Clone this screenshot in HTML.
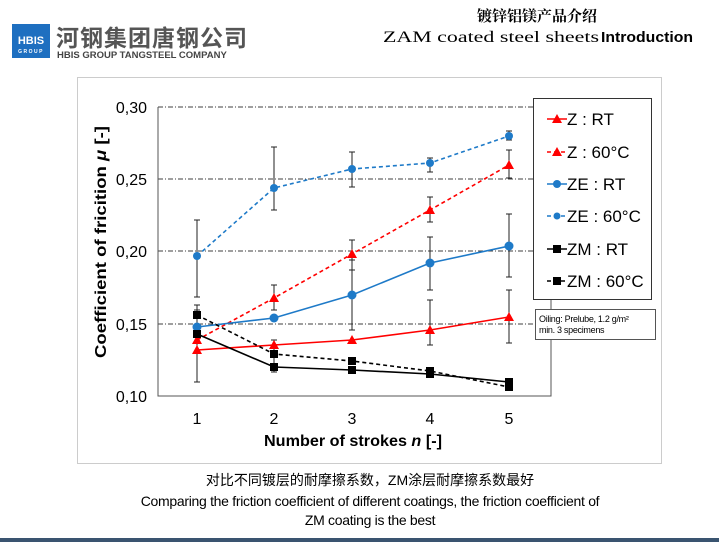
<!DOCTYPE html>
<html><head><meta charset="utf-8"><style>
body{margin:0;width:719px;height:542px;background:#fff;overflow:hidden;font-family:"Liberation Sans","Noto Sans CJK SC",sans-serif}
</style></head><body>
<svg width="719" height="542" xmlns="http://www.w3.org/2000/svg" font-family="Liberation Sans, Noto Sans CJK SC, sans-serif">
<rect x="12" y="24" width="38" height="34" fill="#1e6fc0"/>
<text x="31" y="44" font-size="11" font-weight="bold" fill="#fff" text-anchor="middle">HBIS</text>
<text x="31" y="53" font-size="5" font-weight="bold" fill="#fff" text-anchor="middle" letter-spacing="1.5">GROUP</text>
<text x="56" y="46" font-size="23" font-weight="bold" fill="#555" font-family="Noto Sans CJK SC, sans-serif" letter-spacing="1">河钢集团唐钢公司</text>
<text x="57" y="58" font-size="9.5" fill="#444" font-weight="bold">HBIS GROUP TANGSTEEL COMPANY</text>
<text x="537" y="21" font-size="15" font-weight="bold" text-anchor="middle" font-family="Noto Serif CJK SC, serif">镀锌铝镁产品介绍</text>
<text x="383" y="42" font-size="16" font-family="Liberation Serif, serif" textLength="216" lengthAdjust="spacingAndGlyphs">ZAM coated steel sheets</text>
<text x="601" y="42" font-size="15" font-weight="bold" textLength="92" lengthAdjust="spacingAndGlyphs">Introduction</text>
<rect x="77.5" y="77.5" width="584" height="386" fill="none" stroke="#ccc"/>
<g stroke="#000" stroke-width="0.8" stroke-dasharray="5,2,1,2">
<line x1="158" y1="107" x2="551" y2="107"/><line x1="158" y1="179" x2="551" y2="179"/>
<line x1="158" y1="251" x2="551" y2="251"/><line x1="158" y1="324" x2="551" y2="324"/>
</g>
<path d="M158 107V396H551V240" fill="none" stroke="#555" stroke-width="1"/>
<g font-size="16" text-anchor="end">
<text x="147" y="113">0,30</text><text x="147" y="185">0,25</text><text x="147" y="257">0,20</text><text x="147" y="330">0,15</text><text x="147" y="402">0,10</text>
</g>
<g font-size="16" text-anchor="middle">
<text x="197" y="424">1</text><text x="274" y="424">2</text><text x="352" y="424">3</text><text x="430" y="424">4</text><text x="509" y="424">5</text>
</g>
<text x="264" y="446" font-size="16" font-weight="bold" textLength="178" lengthAdjust="spacingAndGlyphs">Number of strokes <tspan font-style="italic">n</tspan> [-]</text>
<text transform="translate(106,358) rotate(-90)" font-size="16" font-weight="bold" textLength="232" lengthAdjust="spacingAndGlyphs">Coefficient of fricition <tspan font-style="italic">μ</tspan> [-]</text>
<g stroke="#222" stroke-width="1">
<path d="M197 220V297M194 220H200M194 297H200"/>
<path d="M274 147V210M271 147H277M271 210H277"/>
<path d="M352 152V187M349 152H355M349 187H355"/>
<path d="M430 158V172M427 158H433M427 172H433"/>
<path d="M509 131V140M506 131H512M506 140H512"/>
<path d="M430 197V222M427 197H433M427 222H433"/>
<path d="M509 150V178M506 150H512M506 178H512"/>
<path d="M352 240V270M349 240H355M349 270H355"/>
<path d="M274 285V310M271 285H277M271 310H277"/>
<path d="M509 214V277M506 214H512M506 277H512"/>
<path d="M430 237V290M427 237H433M427 290H433"/>
<path d="M352 260V330M349 260H355M349 330H355"/>
<path d="M509 290V343M506 290H512M506 343H512"/>
<path d="M430 300V345M427 300H433M427 345H433"/>
<path d="M197 310V382M194 310H200M194 382H200"/>
<path d="M274 340V372M271 340H277M271 372H277"/>
<path d="M197 305V330M194 305H200"/>
</g>
<g fill="none" stroke-width="1.6">
<polyline stroke="#ff0000" points="197,350 274,345 352,340 430,330 509,317"/>
<polyline stroke="#ff0000" stroke-dasharray="4,3" points="197,340 274,298 352,254 430,210 509,165"/>
<polyline stroke="#1e7ac8" points="197,327 274,318 352,295 430,263 509,246"/>
<polyline stroke="#1e7ac8" stroke-dasharray="4,3" points="197,256 274,188 352,169 430,163 509,136"/>
<polyline stroke="#000" points="197,334 274,367 352,370 430,374 509,382"/>
<polyline stroke="#000" stroke-dasharray="4,3" points="197,315 274,354 352,361 430,371 509,387"/>
</g>
<g fill="#ff0000">
<path d="M197 345l5 9h-10zM274 340l5 9h-10zM352 335l5 9h-10zM430 325l5 9h-10zM509 312l5 9h-10z"/>
<path d="M197 335l5 9h-10zM274 293l5 9h-10zM352 249l5 9h-10zM430 205l5 9h-10zM509 160l5 9h-10z"/>
</g>
<g fill="#1e7ac8">
<circle cx="197" cy="327" r="4.5"/><circle cx="274" cy="318" r="4.5"/><circle cx="352" cy="295" r="4.5"/><circle cx="430" cy="263" r="4.5"/><circle cx="509" cy="246" r="4.5"/>
<circle cx="197" cy="256" r="4"/><circle cx="274" cy="188" r="4"/><circle cx="352" cy="169" r="4"/><circle cx="430" cy="163" r="4"/><circle cx="509" cy="136" r="4"/>
</g>
<g fill="#000">
<rect x="193" y="330" width="8" height="8"/><rect x="270" y="363" width="8" height="8"/><rect x="348" y="366" width="8" height="8"/><rect x="426" y="370" width="8" height="8"/><rect x="505" y="378" width="8" height="8"/>
<rect x="193" y="311" width="8" height="8"/><rect x="270" y="350" width="8" height="8"/><rect x="348" y="357" width="8" height="8"/><rect x="426" y="367" width="8" height="8"/><rect x="505" y="383" width="8" height="8"/>
</g>
<rect x="533.5" y="98.5" width="118" height="201" fill="#fff" stroke="#333"/>
<g stroke-width="1.6" fill="none">
<line x1="547" y1="119" x2="567" y2="119" stroke="#f00"/>
<line x1="547" y1="152" x2="567" y2="152" stroke="#f00" stroke-dasharray="4,3"/>
<line x1="547" y1="184" x2="567" y2="184" stroke="#1e7ac8"/>
<line x1="547" y1="216" x2="567" y2="216" stroke="#1e7ac8" stroke-dasharray="4,3"/>
<line x1="547" y1="249" x2="567" y2="249" stroke="#000"/>
<line x1="547" y1="281" x2="567" y2="281" stroke="#000" stroke-dasharray="4,3"/>
</g>
<path d="M557 114l5 9h-10zM557 147l5 9h-10z" fill="#f00"/>
<circle cx="557" cy="184" r="4" fill="#1e7ac8"/><circle cx="557" cy="216" r="3.5" fill="#1e7ac8"/>
<rect x="553" y="245" width="8" height="8"/><rect x="553" y="277" width="8" height="8"/>
<g font-size="17">
<text x="567" y="125">Z   : RT</text><text x="567" y="158">Z   : 60°C</text>
<text x="567" y="190">ZE : RT</text><text x="567" y="222">ZE : 60°C</text>
<text x="567" y="255">ZM : RT</text><text x="567" y="287">ZM : 60°C</text>
</g>
<rect x="535.5" y="309.5" width="120" height="30" fill="#fff" stroke="#555"/>
<text x="539" y="322" font-size="9" letter-spacing="-0.3">Oiling: Prelube, 1.2 g/m²</text>
<text x="539" y="333" font-size="9" letter-spacing="-0.3">min. 3 specimens</text>
<g text-anchor="middle" font-size="14">
<text x="370" y="485">对比不同镀层的耐摩擦系数，ZM涂层耐摩擦系数最好</text>
<text x="370" y="506" letter-spacing="-0.3">Comparing the friction coefficient of different coatings, the friction coefficient of</text>
<text x="370" y="525" letter-spacing="-0.3">ZM coating is the best</text>
</g>
<rect x="0" y="538" width="719" height="4" fill="#3a5470"/>
</svg>
</body></html>
